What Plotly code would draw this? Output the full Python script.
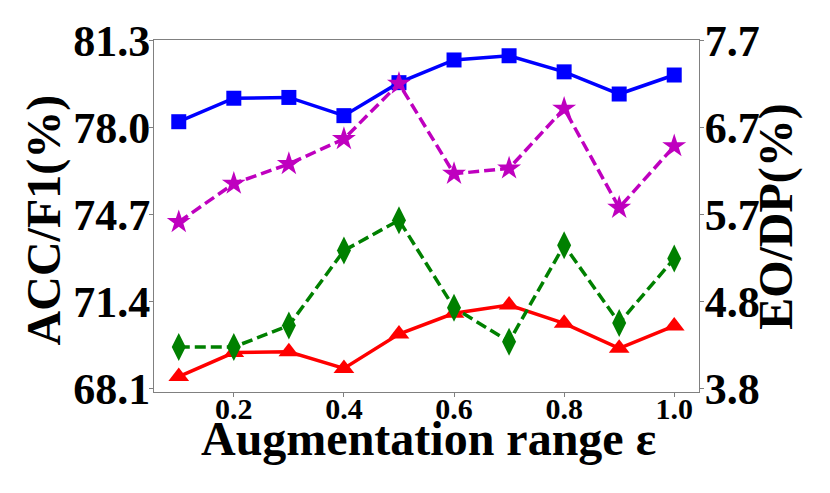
import plotly.graph_objects as go

# augmentation range on the x axis
eps = [0.1, 0.2, 0.3, 0.4, 0.5, 0.6, 0.7, 0.8, 0.9, 1.0]

# left axis (ACC/F1)
acc = [78.23, 79.12, 79.15, 78.46, 79.71, 80.57, 80.73, 80.12, 79.28, 80.00]
f1 = [68.57, 69.48, 69.51, 68.88, 70.18, 70.97, 71.28, 70.59, 69.64, 70.49]

# right axis (EO/DP)
eo = [5.67, 6.10, 6.32, 6.60, 7.22, 6.21, 6.27, 6.94, 5.83, 6.52]
dp = [4.27, 4.27, 4.51, 5.35, 5.69, 4.71, 4.33, 5.41, 4.54, 5.26]

x_ticks = [0.2, 0.4, 0.6, 0.8, 1.0]
x_labels = ["0.2", "0.4", "0.6", "0.8", "1.0"]
left_ticks = [68.1, 71.4, 74.7, 78.0, 81.3]
left_labels = ["68.1", "71.4", "74.7", "78.0", "81.3"]
right_ticks = [3.8, 4.775, 5.75, 6.725, 7.7]
right_labels = ["3.8", "4.8", "5.7", "6.7", "7.7"]

FONT = "Liberation Serif"
AXCOL = "#808080"
DASH = "11px,5px"

fig = go.Figure()

fig.add_trace(go.Scatter(x=eps, y=acc, name="ACC", mode="lines+markers",
                         line=dict(color="#0000ff", width=3.5),
                         marker=dict(symbol="square", size=15, color="#0000ff")))
fig.add_trace(go.Scatter(x=eps, y=f1, name="F1", mode="lines+markers",
                         line=dict(color="#ff0000", width=3.5),
                         marker=dict(symbol="triangle-up", size=18, color="#ff0000")))
fig.add_trace(go.Scatter(x=eps, y=eo, name="EO", mode="lines+markers", yaxis="y2",
                         line=dict(color="#bf00bf", width=3.5, dash=DASH),
                         marker=dict(symbol="star", size=18, color="#bf00bf")))
fig.add_trace(go.Scatter(x=eps, y=dp, name="DP", mode="lines+markers", yaxis="y2",
                         line=dict(color="#008000", width=3.5, dash=DASH),
                         marker=dict(symbol="diamond-tall", size=20, color="#008000")))

# page body has an 8px margin, so the figure is a bit smaller than the window
fig.update_layout(
    width=822, height=485,
    margin=dict(l=146, r=131, t=32, b=101, autoexpand=False),
    plot_bgcolor="white", paper_bgcolor="white",
    showlegend=False,
    font=dict(family=FONT, color="black", weight="bold"),
    xaxis=dict(range=[0.055, 1.045], tickvals=x_ticks, ticktext=x_labels,
               tickfont=dict(size=30, family=FONT, weight="bold"),
               ticks="outside", ticklen=4, tickcolor=AXCOL, automargin=False,
               ticklabelstandoff=-14,
               showline=True, linecolor=AXCOL, linewidth=1, mirror=True,
               showgrid=False, zeroline=False),
    yaxis=dict(range=[67.986, 81.327], tickvals=left_ticks, ticktext=left_labels,
               tickfont=dict(size=44, family=FONT, weight="bold"),
               ticks="outside", ticklen=4, tickcolor=AXCOL, automargin=False,
               ticklabelstandoff=-10,
               showline=True, linecolor=AXCOL, linewidth=1, mirror=True,
               showgrid=False, zeroline=False),
    yaxis2=dict(range=[3.766, 7.708], tickvals=right_ticks, ticktext=right_labels,
                overlaying="y", side="right", automargin=False,
                tickfont=dict(size=44, family=FONT, weight="bold"),
                ticks="outside", ticklen=4, tickcolor=AXCOL,
                ticklabelstandoff=-8,
                showline=True, linecolor=AXCOL, linewidth=1,
                showgrid=False, zeroline=False),
)

# axis titles placed as annotations (paper coords relative to the plot area)
title_font = dict(size=48, family=FONT, color="black", weight="bold")
fig.add_annotation(text="Augmentation range ε", xref="paper", yref="paper",
                   x=0.5037, y=-0.133, xanchor="center", yanchor="middle",
                   showarrow=False, font=title_font)
fig.add_annotation(text="ACC/F1(%)", xref="paper", yref="paper",
                   x=-0.202, y=0.49, xanchor="center", yanchor="middle",
                   textangle=-90, showarrow=False, font=title_font)
fig.add_annotation(text="EO/DP(%)", xref="paper", yref="paper",
                   x=1.141, y=0.5, xanchor="center", yanchor="middle",
                   textangle=-90, showarrow=False, font=title_font)

fig.write_html("out.html")
